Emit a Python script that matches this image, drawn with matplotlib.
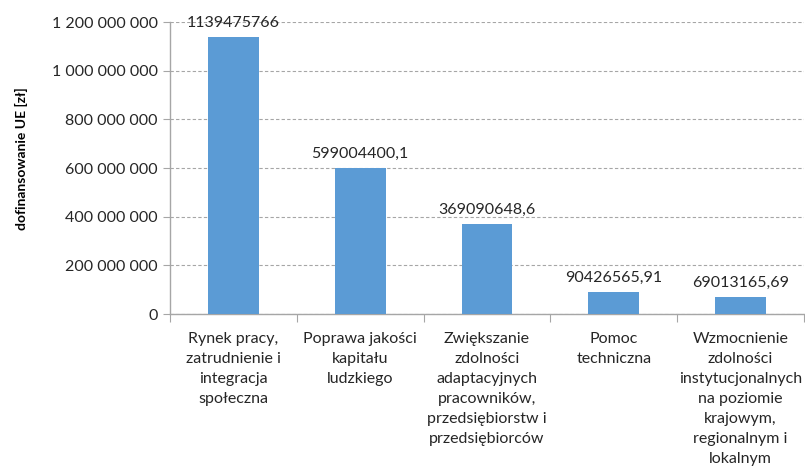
import matplotlib
matplotlib.use("Agg")
import matplotlib.pyplot as plt
from matplotlib.ticker import FuncFormatter, FixedLocator

categories = [
    "Rynek pracy,\nzatrudnienie i\nintegracja\nspołeczna",
    "Poprawa jakości\nkapitału\nludzkiego",
    "Zwiększanie\nzdolności\nadaptacyjnych\npracowników,\nprzedsiębiorstw i\nprzedsiębiorców",
    "Pomoc\ntechniczna",
    "Wzmocnienie\nzdolności\ninstytucjonalnych\nna poziomie\nkrajowym,\nregionalnym i\nlokalnym",
]
values = [1139475766, 599004400.1, 369090648.6, 90426565.91, 69013165.69]
value_labels = ["1139475766", "599004400,1", "369090648,6", "90426565,91", "69013165,69"]
y_ticks = [0, 200000000, 400000000, 600000000, 800000000, 1000000000, 1200000000]
y_label = "dofinansowanie UE [zł]"

plt.rcParams['font.family'] = ['Lato', 'DejaVu Sans']

fig = plt.figure(figsize=(8.05, 4.70), dpi=100)
W, H = 805, 470
ax = fig.add_axes([170 / W, (H - 314) / H, (804 - 170) / W, (314 - 22) / H])

x = list(range(len(categories)))
ax.bar(x, values, width=0.4, color="#5B9BD5", zorder=3)
ax.set_xlim(-0.5, len(categories) - 0.5)
ax.set_ylim(0, 1200000000)

ax.yaxis.set_major_locator(FixedLocator(y_ticks))
ax.yaxis.set_major_formatter(FuncFormatter(lambda v, p: f"{int(v):,}".replace(",", " ")))
ax.grid(axis="y", color="#A6A6A6", linestyle=(0, (3, 2)), linewidth=0.8, zorder=0)

for s in ["top", "right"]:
    ax.spines[s].set_visible(False)
for s in ["left", "bottom"]:
    ax.spines[s].set_color("#A6A6A6")
    ax.spines[s].set_linewidth(1.0)

ax.tick_params(axis="y", length=5, color="#A6A6A6", labelsize=11.5, labelcolor="#262626", pad=4)
ax.set_xticks([i - 0.5 for i in range(len(categories) + 1)], minor=False)
ax.set_xticklabels([])
ax.tick_params(axis="x", which="major", length=6, color="#A6A6A6")
for i, c in enumerate(categories):
    ax.text(i, -0.06, c, transform=ax.get_xaxis_transform(), ha="center", va="top",
            fontsize=11.5, color="#262626", linespacing=1.55)

for i, (v, lab) in enumerate(zip(values, value_labels)):
    ax.annotate(lab, (i, v), xytext=(0, 5), textcoords="offset points", ha="center",
                va="bottom", fontsize=11.5, color="#262626", zorder=4)

fig.text(21 / W, (H - 159) / H, y_label, rotation=90, ha="center", va="center",
         fontsize=10, fontweight="bold", color="#000000")

fig.savefig("out.png", dpi=100)
